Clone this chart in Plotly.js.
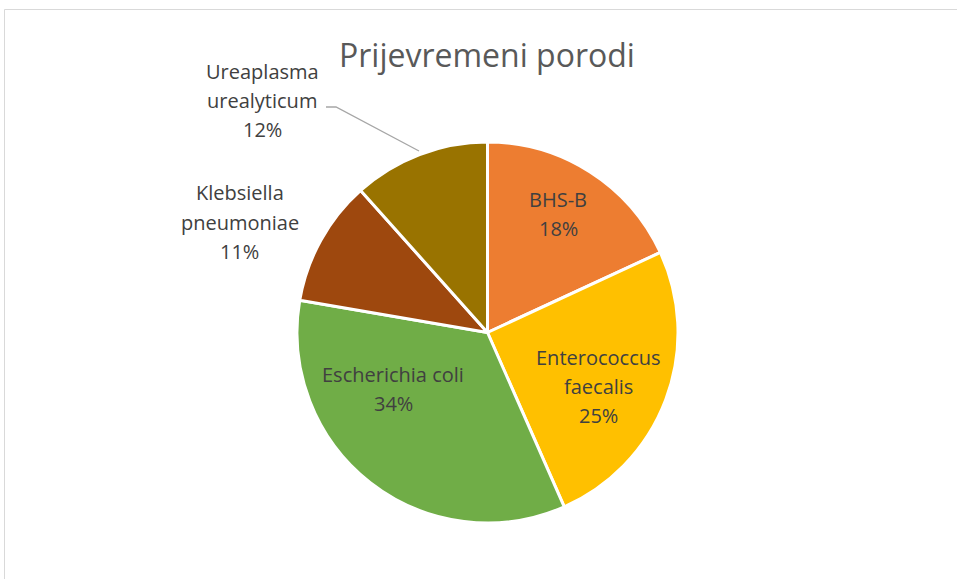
<!DOCTYPE html>
<html>
<head>
<meta charset="utf-8">
<script src="https://cdn.plot.ly/plotly-3.0.1.min.js"></script>
<style>html,body{margin:0;padding:0;background:#fff;}#chart{width:957px;height:579px;}</style>
</head>
<body>
<div id="chart"></div>
<script>
// Data (shares; labels show rounded percentages)
var labels = ["BHS-B", "Enterococcus faecalis", "Escherichia coli", "Klebsiella pneumoniae", "Ureaplasma urealyticum"];
var values = [18.1, 25.3, 34.3, 10.7, 11.6];
var labelLines = [["BHS-B"], ["Enterococcus", "faecalis"], ["Escherichia coli"], ["Klebsiella", "pneumoniae"], ["Ureaplasma", "urealyticum"]];
var colors = ["#ED7D31", "#FFC000", "#70AD47", "#9E480E", "#997300"];
var chartTitle = "Prijevremeni porodi";

var W = 957, H = 579;
function px(x) { return x / W; }
function py(y) { return 1 - y / H; }

var cx = 487.5, cy = 332.5, R = 190.5;

var total = values.reduce(function (a, b) { return a + b; }, 0);

// label block centres (pixel positions)
var labelPos = [[558, 214], [598, 386], [393, 389], [240, 222], [262, 100]];
var lineGap = 29;
var fontSpec = { family: "Open Sans, sans-serif", size: 20, color: "#404040" };

var annotations = [];
labels.forEach(function (lab, i) {
  var pct = Math.round(values[i] / total * 100 + 1e-9);
  var lines = labelLines[i].concat([pct + "%"]);
  var n = lines.length;
  lines.forEach(function (t, j) {
    var yy = labelPos[i][1] + (j - (n - 1) / 2) * lineGap;
    annotations.push({
      xref: "paper", yref: "paper",
      x: px(labelPos[i][0]), y: py(yy),
      xanchor: "center", yanchor: "middle",
      text: t, showarrow: false, font: fontSpec
    });
  });
});

annotations.push({
  xref: "paper", yref: "paper",
  x: px(487), y: py(54),
  xanchor: "center", yanchor: "middle",
  text: chartTitle, showarrow: false,
  font: { family: "Open Sans, sans-serif", size: 32, color: "#595959" }
});

var trace = {
  type: "pie",
  labels: labels,
  values: values,
  sort: false,
  direction: "clockwise",
  rotation: 0,
  marker: { colors: colors, line: { color: "#FFFFFF", width: 3 } },
  textinfo: "none",
  hoverinfo: "label+percent",
  showlegend: false,
  domain: { x: [px(cx - R), px(cx + R)], y: [py(cy + R), py(cy - R)] }
};

var layout = {
  width: W, height: H,
  margin: { l: 0, r: 0, t: 0, b: 0 },
  paper_bgcolor: "#FFFFFF",
  showlegend: false,
  annotations: annotations,
  shapes: [
    { type: "rect", xref: "paper", yref: "paper",
      x0: px(4.5), x1: px(1000), y0: py(9.5), y1: py(700),
      line: { color: "#D9D9D9", width: 1 }, fillcolor: "rgba(0,0,0,0)" },
    { type: "path", xref: "paper", yref: "paper",
      path: "M " + px(326) + "," + py(107) + " L " + px(336) + "," + py(107) + " L " + px(419) + "," + py(151),
      line: { color: "#A6A6A6", width: 1.3 } }
  ]
};

Plotly.newPlot("chart", [trace], layout, { displayModeBar: false, staticPlot: true });
</script>
</body>
</html>
